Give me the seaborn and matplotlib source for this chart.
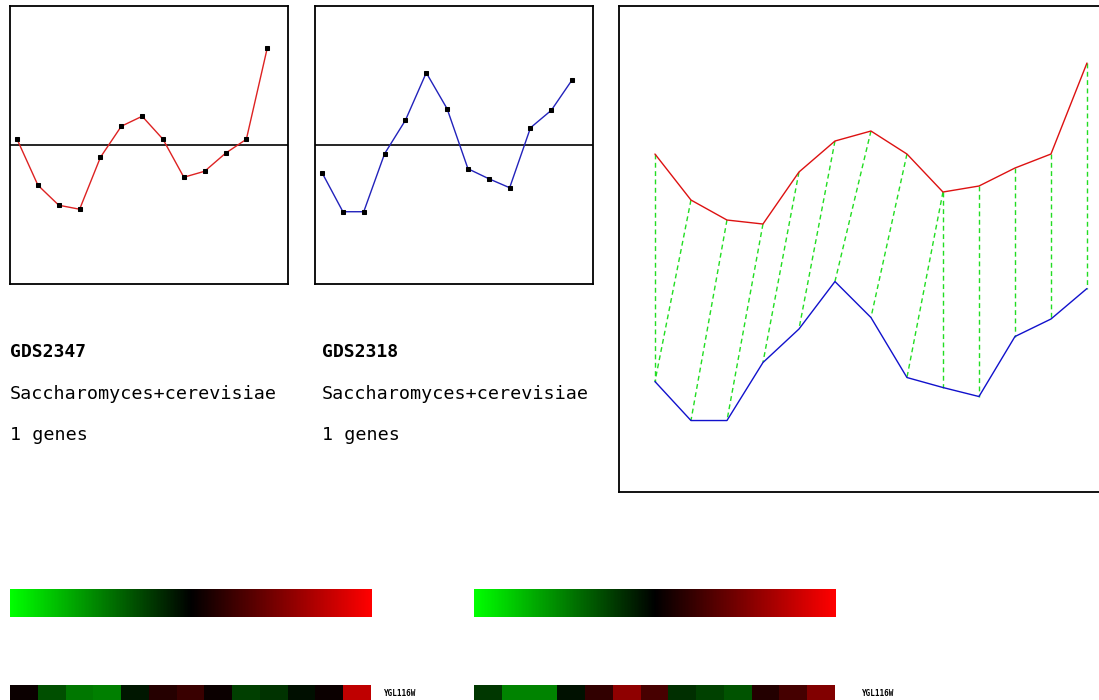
import matplotlib
matplotlib.use('Agg')
import matplotlib.pyplot as plt
from matplotlib.colors import LinearSegmentedColormap, Normalize
from matplotlib.cm import ScalarMappable
import numpy as np
import pandas as pd
import seaborn as sns

# expression profiles (log ratio), one value per sample
samples = np.arange(13)
gds2347 = [0.12, -0.80, -1.20, -1.28, -0.24, 0.38, 0.58, 0.12, -0.64, -0.52, -0.16, 0.12, 1.94]
gds2318 = [-0.55, -1.33, -1.33, -0.17, 0.50, 1.45, 0.73, -0.47, -0.67, -0.85, 0.35, 0.70, 1.31]
dataset_ids = ['GDS2347', 'GDS2318']
organism = 'Saccharomyces+cerevisiae'
gene_counts = ['1 genes', '1 genes']
gene_label = 'YGL116W'

# warping path between the two profiles (red index, blue index)
path_red = [0, 1, 2, 3, 4, 5, 6, 7, 8, 8, 9, 10, 11, 12]
path_blue = [0, 0, 1, 2, 3, 4, 5, 6, 7, 8, 9, 10, 11, 12]
red_shift = 3.88

sns.set_style('white')
plt.rcParams['font.family'] = ['DejaVu Sans Mono']
plt.rcParams['text.color'] = 'black'

fig = plt.figure(figsize=(10.99, 7.0), dpi=100)

cmap = LinearSegmentedColormap.from_list('gkr', ['#00ff00', '#000000', '#ff0000'])
norm = Normalize(vmin=-2.6, vmax=2.6)


def frame(ax):
    ax.set_xticks([])
    ax.set_yticks([])
    ax.set_xlabel('')
    ax.set_ylabel('')
    for s in ax.spines.values():
        s.set_visible(True)
        s.set_color('black')
        s.set_linewidth(1.3)


def small_profile(rect, vals, col):
    ax = fig.add_axes(rect)
    ax.axhline(0, color='black', lw=1.2, zorder=1)
    sns.lineplot(x=samples, y=vals, color=col, lw=1.0, marker='s', markersize=3.2,
                 markerfacecolor='black', markeredgecolor='black', ax=ax, zorder=2)
    ax.set_xlim(-0.34, 13.0)
    ax.set_ylim(-2.78, 2.78)
    frame(ax)
    return ax


small_profile([0.0091, 0.594, 0.253, 0.397], gds2347, '#dd2222')
small_profile([0.2866, 0.594, 0.253, 0.397], gds2318, '#2222bb')

# combined view with alignment
ax3 = fig.add_axes([0.5632, 0.2971, 0.4586, 0.6943])
red_up = np.array(gds2347) + red_shift
blue = np.array(gds2318)
for i, j in zip(path_red, path_blue):
    ax3.plot([samples[i], samples[j]], [red_up[i], blue[j]], color='#22dd22',
             lw=1.0, linestyle=(0, (3.5, 2.5)), zorder=1)
sns.lineplot(x=samples, y=red_up, color='#dd1111', lw=1.0, ax=ax3, zorder=2)
sns.lineplot(x=samples, y=blue, color='#1111cc', lw=1.0, ax=ax3, zorder=2)
ax3.set_xlim(-1.0, 13.0)
ax3.set_ylim(-2.76, 6.96)
frame(ax3)

# dataset captions
for k, x0 in enumerate([0.0091, 0.293]):
    fig.text(x0, 0.497, dataset_ids[k], fontsize=13, fontweight='bold', va='center', ha='left')
    fig.text(x0, 0.437, organism, fontsize=13.2, va='center', ha='left')
    fig.text(x0, 0.379, gene_counts[k], fontsize=13.2, va='center', ha='left')

# colour scale bars
for x0 in [0.0091, 0.4313]:
    cax = fig.add_axes([x0, 0.1186, 0.3294, 0.04])
    cb = fig.colorbar(ScalarMappable(norm=norm, cmap=cmap), cax=cax, orientation='horizontal')
    cb.set_ticks([])
    cb.outline.set_visible(False)

# heatmap rows
for x0, vals, tx in [(0.0091, gds2347, 0.349), (0.4313, gds2318, 0.784)]:
    hax = fig.add_axes([x0, -0.0186, 0.3285, 0.04])
    df = pd.DataFrame([vals], index=[gene_label])
    sns.heatmap(df, cmap=cmap, vmin=-2.6, vmax=2.6, cbar=False, ax=hax,
                xticklabels=False, yticklabels=False, linewidths=0)
    hax.set_xlabel('')
    hax.set_ylabel('')
    fig.text(tx, 0.009, gene_label, fontsize=5.5, fontweight='bold', va='center', ha='left')

fig.savefig('out.png', dpi=100)
